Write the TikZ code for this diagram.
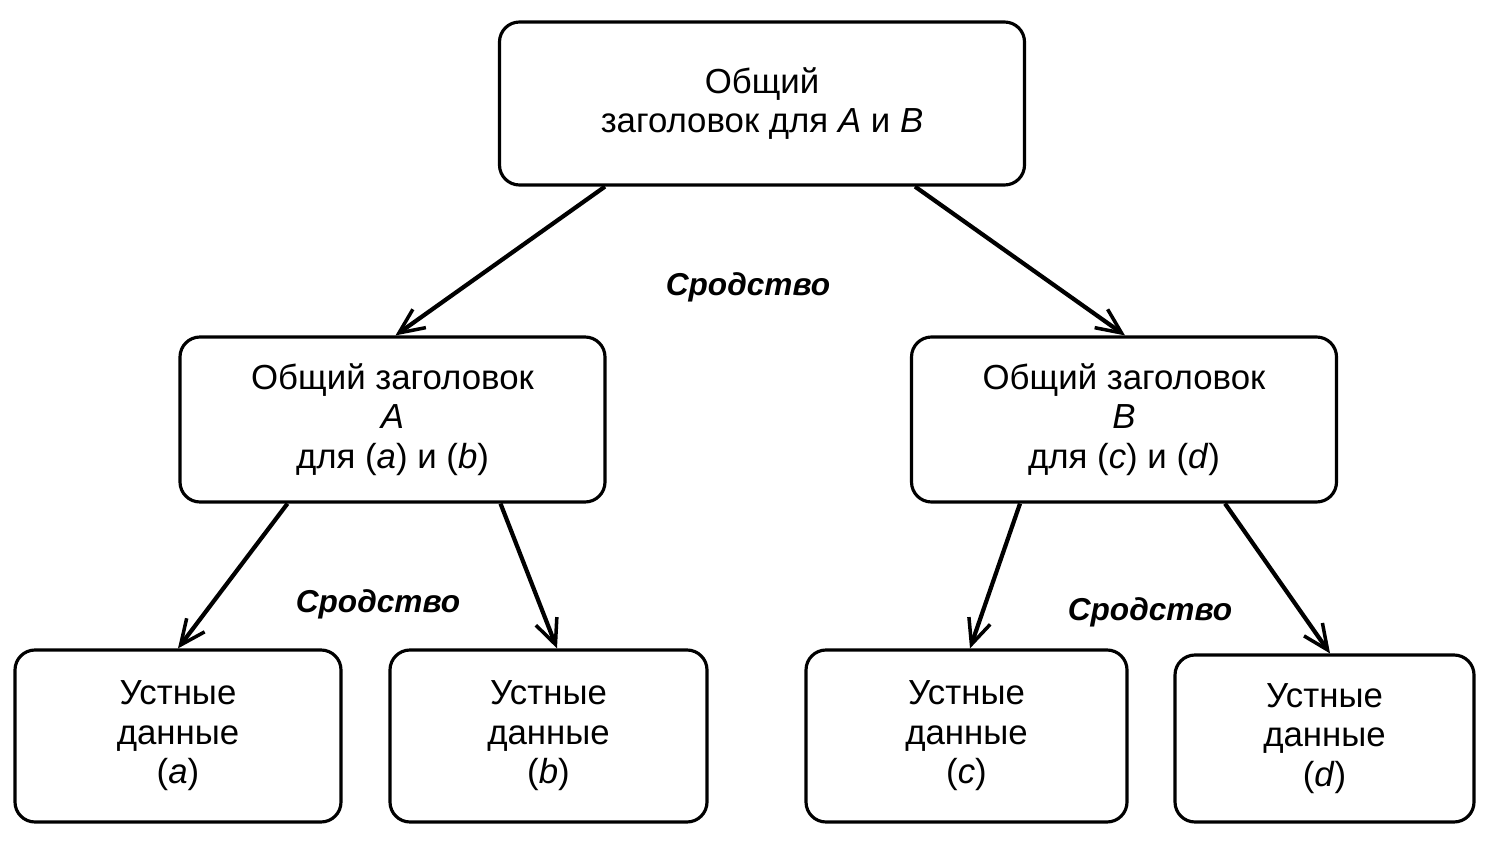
\documentclass[tikz,border=0pt]{standalone}
\usepackage{fontspec}
\setmainfont{Liberation Sans}
\usetikzlibrary{arrows.meta}
\tikzset{
  box/.style={draw, line width=1.8pt, rounded corners=0.4cm, align=center,
    font=\fontsize{19.8}{22.5}\selectfont, inner sep=0pt},
  arr/.style={line width=2.4pt, -{Straight Barb[length=0.5cm,width=0.45cm,line width=2pt]}},
  lbl/.style={font=\fontsize{18}{21}\selectfont\bfseries\itshape}
}
\begin{document}
\begin{tikzpicture}
\useasboundingbox (0,0) rectangle (29.8,16.82);
\node[box, minimum width=10.5cm, minimum height=3.26cm] (top) at (15.24,14.75) {Общий\\заголовок для \textit{A} и \textit{B}};
\node[box, minimum width=8.5cm, minimum height=3.3cm] (ml) at (7.85,8.43) {Общий заголовок\\\textit{A}\\для (\textit{a}) и (\textit{b})};
\node[box, minimum width=8.5cm, minimum height=3.3cm] (mr) at (22.48,8.43) {Общий заголовок\\\textit{B}\\для (\textit{c}) и (\textit{d})};
\node[box, minimum width=6.52cm, minimum height=3.44cm] (a) at (3.56,2.10) {Устные\\данные\\(\textit{a})};
\node[box, minimum width=6.34cm, minimum height=3.44cm] (b) at (10.97,2.10) {Устные\\данные\\(\textit{b})};
\node[box, minimum width=6.42cm, minimum height=3.44cm] (c) at (19.33,2.10) {Устные\\данные\\(\textit{c})};
\node[box, minimum width=5.98cm, minimum height=3.34cm] (d) at (26.49,2.05) {Устные\\данные\\(\textit{d})};
\draw[arr] ([xshift=-3.14cm]top.south) -- ([xshift=0.06cm]ml.north);
\draw[arr] ([xshift=3.06cm]top.south) -- ([xshift=0.02cm]mr.north);
\draw[arr] ([xshift=-2.1cm]ml.south) -- ([xshift=0cm]a.north);
\draw[arr] ([xshift=2.16cm]ml.south) -- ([xshift=0.17cm]b.north);
\draw[arr] ([xshift=-2.08cm]mr.south) -- ([xshift=0.07cm]c.north);
\draw[arr] ([xshift=2.02cm]mr.south) -- ([xshift=0.11cm]d.north);
\node[lbl] (l1) at (14.96,11.08) {Сродство};
\node[lbl] (l2) at (7.56,4.74) {Сродство};
\node[lbl] (l3) at (23.0,4.58) {Сродство};
\end{tikzpicture}
\end{document}
